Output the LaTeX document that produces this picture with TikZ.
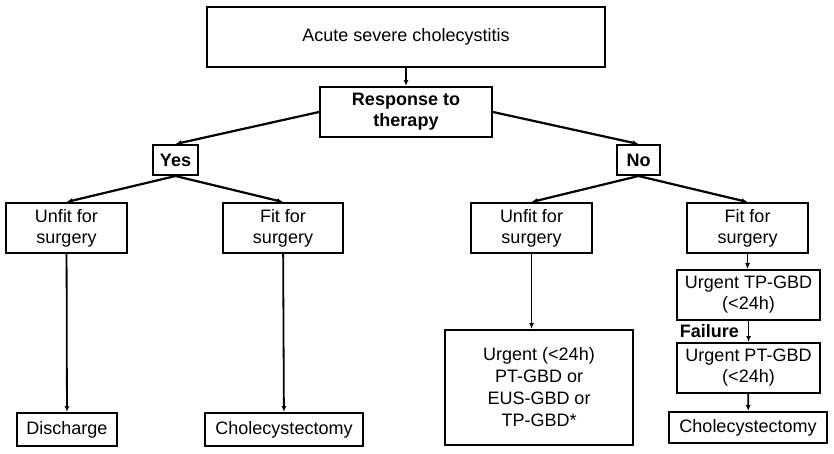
\documentclass[tikz,border=0pt]{standalone}
\usepackage{fontspec}
\setmainfont{Liberation Sans}
\usetikzlibrary{arrows.meta}
\begin{document}
\begin{tikzpicture}[
    x=1pt, y=-1pt,
    every node/.style={text=black, font=\fontsize{18}{21}\selectfont},
    cbox/.style={rectangle, draw, line width=2pt, align=center, inner sep=2pt, minimum height=50pt},
    bbox/.style={cbox, font=\fontsize{18}{21}\selectfont\bfseries},
    branch/.style={draw, line width=2.2pt, -{Latex[length=6pt,width=5pt]}},
    down/.style={draw, line width=1.8pt, -{Latex[length=6pt,width=5pt]}}
]
    \useasboundingbox (0,0) rectangle (834,453);
    \node[cbox, minimum width=398pt, minimum height=60pt] (acute) at (406,37) {Acute severe cholecystitis};
    \node[bbox, minimum width=172pt] (resp) at (406,112) {Response to\\therapy};
    \node[bbox, minimum width=45pt, minimum height=30pt] (yes) at (175.5,160) {Yes};
    \node[bbox, minimum width=43pt, minimum height=30pt] (no) at (638.5,160) {No};
    \node[cbox, minimum width=121pt] (unfitA) at (66.5,228) {Unfit for\\surgery};
    \node[cbox, minimum width=120pt] (fitA) at (283,228) {Fit for\\surgery};
    \node[cbox, minimum width=121pt] (unfitB) at (531.5,228) {Unfit for\\surgery};
    \node[cbox, minimum width=121pt] (fitB) at (747.5,228) {Fit for\\surgery};
    \node[cbox, minimum width=100pt, minimum height=33pt] (discharge) at (67,429.5) {Discharge};
    \node[cbox, minimum width=158pt, minimum height=33pt] (cholA) at (284,429.5) {Cholecystectomy};
    \node[cbox, minimum width=188pt, minimum height=115pt, font=\fontsize{18}{22}\selectfont] (urgent) at (539,387.5) {Urgent (<24h)\\PT-GBD or\\EUS-GBD or\\TP-GBD*};
    \node[cbox, minimum width=143pt] (tpgbd) at (748.5,295) {Urgent TP-GBD\\(<24h)};
    \node[cbox, minimum width=143pt] (ptgbd) at (748.5,368) {Urgent PT-GBD\\(<24h)};
    \node[cbox, minimum width=158pt, minimum height=31pt] (cholB) at (748,427.5) {Cholecystectomy};
    \node[font=\fontsize{18}{21}\selectfont\bfseries, inner sep=0pt, anchor=east] (fail) at (739,331) {Failure};

    \draw[down] (acute) -- (resp);
    \draw[branch] (resp.west) -- (yes.north);
    \draw[branch] (resp.east) -- (no.north);
    \draw[branch] (yes.south) -- (unfitA.north);
    \draw[branch] (yes.south) -- (fitA.north);
    \draw[branch] (no.south) -- (unfitB.north);
    \draw[branch] (no.south) -- (fitB.north);
    \draw[down] (unfitA) -- (discharge);
    \draw[down] (fitA) -- (cholA);
    \draw[down] (unfitB.south) -- (unfitB.south |- urgent.north);
    \draw[down] (fitB.south) -- (fitB.south |- tpgbd.north);
    \draw[down] (tpgbd) -- (ptgbd);
    \draw[down] (ptgbd) -- (cholB);
\end{tikzpicture}
\end{document}
